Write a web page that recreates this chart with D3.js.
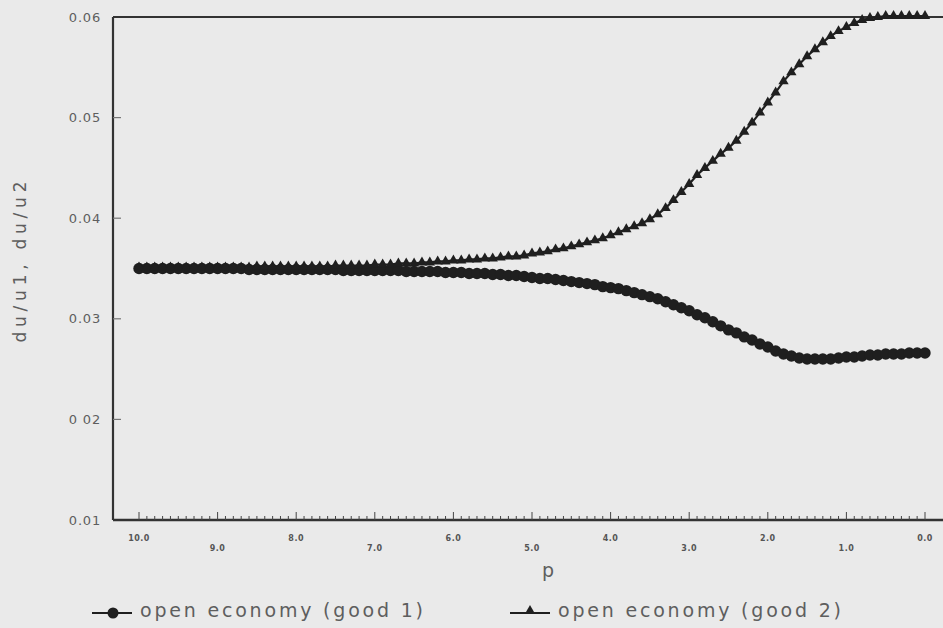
<!DOCTYPE html>
<html>
<head>
<meta charset="utf-8">
<script src="https://cdn.jsdelivr.net/npm/d3@7"></script>
<style>
  html, body { margin: 0; padding: 0; background: #eaeaea; }
  svg { display: block; font-family: 'DejaVu Sans', sans-serif; }
</style>
</head>
<body>
<svg id="chart" width="943" height="628"></svg>
<script>
// p runs from 10.0 down to 0.0 in steps of 0.1
const pValues = d3.range(100, -1, -1).map(d => d / 10)

// du/u1, open economy (good 1), p = 10.0 ... 0.0
const good1 = [
  0.0350, 0.0350, 0.0350, 0.0350, 0.0350, 0.0350, 0.0350, 0.0350, 0.0350, 0.0350,
  0.0350, 0.0350, 0.0350, 0.0350, 0.0349, 0.0349, 0.0349, 0.0349, 0.0349, 0.0349,
  0.0349, 0.0349, 0.0349, 0.0349, 0.0349, 0.0349, 0.0348, 0.0348, 0.0348, 0.0348,
  0.0348, 0.0348, 0.0348, 0.0348, 0.0347, 0.0347, 0.0347, 0.0347, 0.0347, 0.0346,
  0.0346, 0.0346, 0.0345, 0.0345, 0.0345, 0.0344, 0.0344, 0.0343, 0.0343, 0.0342,
  0.0341, 0.0340, 0.0340, 0.0339, 0.0338, 0.0337, 0.0336, 0.0335, 0.0334, 0.0332,
  0.0331, 0.0330, 0.0328, 0.0326, 0.0324, 0.0322, 0.0320, 0.0317, 0.0314, 0.0311,
  0.0308, 0.0304, 0.0301, 0.0297, 0.0293, 0.0289, 0.0286, 0.0282, 0.0279, 0.0275,
  0.0272, 0.0268, 0.0265, 0.0263, 0.0261, 0.0260, 0.0260, 0.0260, 0.0260, 0.0261,
  0.0262, 0.0262, 0.0263, 0.0264, 0.0264, 0.0265, 0.0265, 0.0265, 0.0266, 0.0266,
  0.0266
]

// du/u2, open economy (good 2)
const good2 = [
  0.0351, 0.0351, 0.0351, 0.0351, 0.0351, 0.0351, 0.0351, 0.0351, 0.0351, 0.0351,
  0.0351, 0.0351, 0.0351, 0.0351, 0.0351, 0.0352, 0.0352, 0.0352, 0.0352, 0.0352,
  0.0352, 0.0352, 0.0352, 0.0352, 0.0352, 0.0353, 0.0353, 0.0353, 0.0353, 0.0353,
  0.0354, 0.0354, 0.0354, 0.0355, 0.0355, 0.0355, 0.0356, 0.0356, 0.0357, 0.0357,
  0.0358, 0.0358, 0.0359, 0.0359, 0.0360, 0.0360, 0.0361, 0.0362, 0.0362, 0.0363,
  0.0365, 0.0366, 0.0367, 0.0369, 0.0370, 0.0372, 0.0374, 0.0376, 0.0378, 0.0380,
  0.0383, 0.0386, 0.0389, 0.0392, 0.0395, 0.0399, 0.0404, 0.0410, 0.0418, 0.0426,
  0.0434, 0.0443, 0.0450, 0.0457, 0.0464, 0.0470, 0.0477, 0.0486, 0.0495, 0.0505,
  0.0515, 0.0525, 0.0536, 0.0545, 0.0553, 0.0561, 0.0568, 0.0575, 0.0581, 0.0586,
  0.0590, 0.0594, 0.0597, 0.0599, 0.0600, 0.0601, 0.0601, 0.0601, 0.0601, 0.0601,
  0.0601
]

const yTicks = [0.01, 0.02, 0.03, 0.04, 0.05, 0.06]
const yTickLabels = ['0.01', '0 02', '0.03', '0.04', '0.05', '0.06']
const xTicks = [10, 9, 8, 7, 6, 5, 4, 3, 2, 1, 0]
const xTickLabels = ['10.0', '9.0', '8.0', '7.0', '6.0', '5.0', '4.0', '3.0', '2.0', '1.0', '0.0']
const legendLabels = ['open economy (good 1)', 'open economy (good 2)']

const svg = d3.select('#chart')
const ink = '#1f1f1f'
const textGrey = '#5e5e5e'

const plotLeft = 113
const plotTop = 17
const plotBottom = 520

const x = d3.scaleLinear().domain([10, 0]).range([139, 925])
const y = d3.scaleLinear().domain([0.01, 0.06]).range([plotBottom, plotTop])

// frame: left axis, bottom axis, top line running off the right edge
svg.append('line')
  .attr('x1', plotLeft).attr('x2', plotLeft).attr('y1', plotTop).attr('y2', plotBottom)
  .style('stroke', '#333').style('stroke-width', 2.2)
svg.append('line')
  .attr('x1', plotLeft).attr('x2', 943).attr('y1', plotBottom).attr('y2', plotBottom)
  .style('stroke', '#333').style('stroke-width', 2.5)
svg.append('line')
  .attr('x1', plotLeft).attr('x2', 943).attr('y1', plotTop).attr('y2', plotTop)
  .style('stroke', '#333').style('stroke-width', 2)

// y ticks (inside) and labels
svg.selectAll('.ytick')
  .data(yTicks.slice(1, -1))
  .join('line')
  .attr('class', 'ytick')
  .attr('x1', plotLeft).attr('x2', plotLeft + 8)
  .attr('y1', d => y(d)).attr('y2', d => y(d))
  .style('stroke', '#777').style('stroke-width', 1.2)

svg.selectAll('.ylab')
  .data(yTicks)
  .join('text')
  .attr('class', 'ylab')
  .attr('x', 101)
  .attr('y', d => y(d))
  .attr('dy', '0.35em')
  .attr('text-anchor', 'end')
  .style('font-size', '13px')
  .style('letter-spacing', '0.8px')
  .style('fill', textGrey)
  .text((d, i) => yTickLabels[i])

// x minor / major ticks, every 0.1
const minor = d3.range(0, 101).map(d => d / 10)
svg.selectAll('.xtick')
  .data(minor)
  .join('line')
  .attr('class', 'xtick')
  .attr('x1', d => x(d)).attr('x2', d => x(d))
  .attr('y1', plotBottom)
  .attr('y2', (d, i) => (i % 10 === 0 ? plotBottom - 8 : plotBottom - 4))
  .style('stroke', '#444').style('stroke-width', 1)

// staggered x labels
svg.selectAll('.xlab')
  .data(xTicks)
  .join('text')
  .attr('class', 'xlab')
  .attr('x', d => x(d))
  .attr('y', d => (d % 2 === 0 ? 538 : 548))
  .attr('dy', '0.35em')
  .attr('text-anchor', 'middle')
  .style('font-size', '8px')
  .style('font-weight', 'bold')
  .style('letter-spacing', '0.5px')
  .style('fill', '#555')
  .text((d, i) => xTickLabels[i])

// axis titles
svg.append('text')
  .attr('x', 548).attr('y', 570)
  .attr('dy', '0.35em')
  .attr('text-anchor', 'middle')
  .style('font-size', '19px')
  .style('fill', textGrey)
  .text('p')

svg.append('text')
  .attr('transform', 'translate(20,262) rotate(-90)')
  .attr('dy', '0.35em')
  .attr('text-anchor', 'middle')
  .attr('textLength', 161)
  .attr('lengthAdjust', 'spacing')
  .style('font-size', '17px')
  .style('fill', textGrey)
  .text('du/u1, du/u2')

// series
const rows1 = pValues.map((p, i) => ({ p, v: good1[i] }))
const rows2 = pValues.map((p, i) => ({ p, v: good2[i] }))
const line = d3.line().x(d => x(d.p)).y(d => y(d.v))
const tri = d3.symbol().type(d3.symbolTriangle).size(46)

svg.append('path')
  .attr('d', line(rows1))
  .style('fill', 'none').style('stroke', ink).style('stroke-width', 2)
svg.selectAll('.dot1')
  .data(rows1)
  .join('circle')
  .attr('class', 'dot1')
  .attr('cx', d => x(d.p)).attr('cy', d => y(d.v))
  .attr('r', 5.7)
  .style('fill', ink)

svg.append('path')
  .attr('d', line(rows2))
  .style('fill', 'none').style('stroke', ink).style('stroke-width', 2.2)
svg.selectAll('.dot2')
  .data(rows2)
  .join('path')
  .attr('class', 'dot2')
  .attr('transform', d => `translate(${x(d.p)},${y(d.v)})`)
  .attr('d', tri)
  .style('fill', ink)

// legend
const legendX = [92, 510]
const legend = svg.selectAll('.legend')
  .data(legendLabels)
  .join('g')
  .attr('class', 'legend')
  .attr('transform', (d, i) => `translate(${legendX[i]},613)`)

legend.append('line')
  .attr('x1', 0).attr('x2', 40)
  .style('stroke', ink).style('stroke-width', 2)
legend.each(function (d, i) {
  const g = d3.select(this)
  if (i === 0) {
    g.append('circle').attr('cx', 21).attr('r', 5.5).style('fill', ink)
  } else {
    g.append('path').attr('transform', 'translate(20,-2)').attr('d', tri).style('fill', ink)
  }
})
legend.append('text')
  .attr('x', 48)
  .attr('dy', '0.2em')
  .attr('textLength', 283)
  .attr('lengthAdjust', 'spacing')
  .style('font-size', '19px')
  .style('fill', textGrey)
  .text(d => d)
</script>
</body>
</html>
